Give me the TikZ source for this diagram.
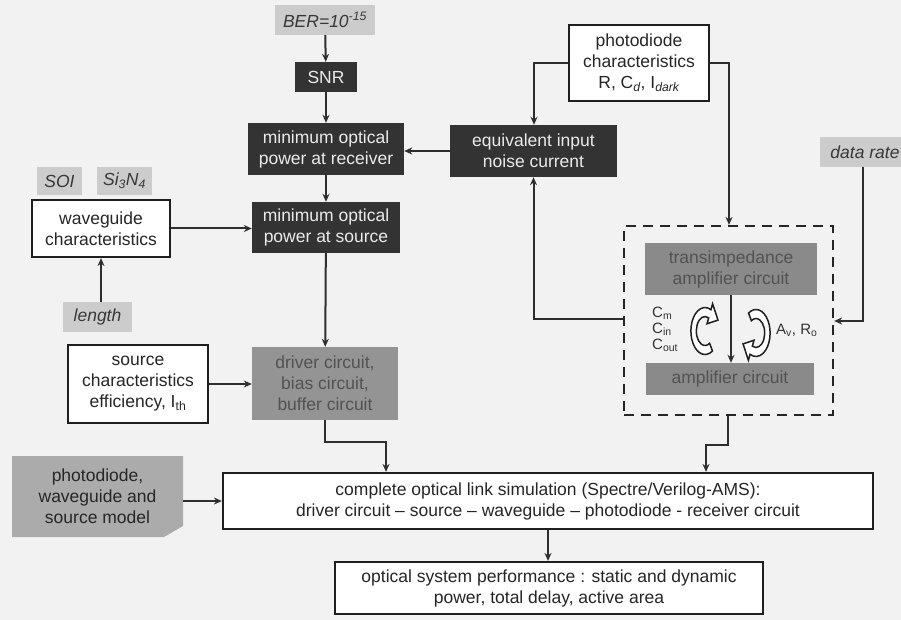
\documentclass[tikz,border=0pt]{standalone}
\usepackage{fontspec}
\setmainfont{Liberation Sans}
\usetikzlibrary{arrows.meta,calc}
\begin{document}
\begin{tikzpicture}[x=1pt,y=-1pt,
  every node/.style={font=\fontsize{17.5}{21}\selectfont, inner sep=0pt, align=center},
  sz/.style 2 args={minimum width=#1pt, minimum height=#2pt},
  darkbox/.style={fill=black!80, text=white!92!black},
  lightlab/.style={fill=black!20, text=black!78, font=\fontsize{17.5}{21}\selectfont\itshape},
  plainbox/.style={draw=black!88, line width=2.2pt, fill=white, text=black!85},
  midbox/.style={fill=black!46, text=black!68},
  conn/.style={draw=black!82, line width=2pt, -{Stealth[length=8pt,width=7pt]}},
  curv/.style={draw=black!88, line width=1.5pt, fill=white},
  small/.style={font=\fontsize{15}{18}\selectfont, text=black!80}
]
\useasboundingbox[fill=black!5] (0,0) rectangle (901,620);

% top chain
\node[lightlab, sz={100}{30}] (ber) at (325,20) {BER=10\textsuperscript{-15}};
\node[darkbox, sz={62}{30}] (snr) at (326,77) {SNR};
\node[darkbox, sz={156}{52}] (recv) at (326,149) {minimum optical\\power at receiver};
\node[darkbox, sz={148}{51}] (src) at (326,227.5) {minimum optical\\power at source};

% waveguide
\node[lightlab, sz={45}{28}] (soi) at (59.5,181) {SOI};
\node[lightlab, sz={55}{28}] (sin) at (124.5,181) {Si\textsubscript{3}N\textsubscript{4}};
\node[plainbox, sz={138}{57}] (wg) at (101,228.5) {waveguide\\characteristics};
\node[lightlab, sz={69}{30}] (len) at (97.5,317) {length};

% source / driver
\node[plainbox, sz={140}{78}] (schar) at (138,384) {source\\characteristics\\efficiency, I\textsubscript{th}};
\node[midbox, fill=black!42, sz={146}{73}] (drv) at (325,383.5) {driver circuit,\\bias circuit,\\buffer circuit};

% photodiode side
\node[plainbox, sz={140}{76}] (pchar) at (639,63) {photodiode\\characteristics\\R, C\textsubscript{\itshape d}, I\textsubscript{\itshape dark}};
\node[darkbox, sz={167}{52}] (eq) at (533.5,151) {equivalent input\\noise current};
\node[lightlab, sz={90}{30}] (rate) at (865,152) {data rate};

% receiver dashed block
\node[draw=black!85, line width=2.2pt, dash pattern=on 10pt off 7pt, sz={209}{189}] (dash) at (728.5,320.5) {};
\node[midbox, sz={172}{52}] (tia) at (731,269) {transimpedance\\amplifier circuit};
\node[midbox, sz={168}{32}] (amp) at (730,379) {amplifier circuit};
\node[small, anchor=west, align=left] (caps) at (652,329) {C\textsubscript{m}\\[-2pt]C\textsubscript{in}\\[-2pt]C\textsubscript{out}};
\node[small, anchor=west] (avro) at (776,330) {A\textsubscript{v}, R\textsubscript{o}};

% curved arrows
\begin{scope}[shift={(705,331)}, xscale=0.6]
  \path[curv] (58:23.5) arc[start angle=58, end angle=295, radius=23.5]
    -- (295:30) -- ($(295:19)+(25:15)$) -- (295:8) -- (295:14.5)
    arc[start angle=295, end angle=58, radius=14.5] -- cycle;
\end{scope}
\begin{scope}[shift={(756,333)}, xscale=0.6]
  \path[curv] (238:23.5) arc[start angle=238, end angle=475, radius=23.5]
    -- (475:30) -- ($(475:19)+(565:15)$) -- (475:8) -- (475:14.5)
    arc[start angle=475, end angle=238, radius=14.5] -- cycle;
\end{scope}

% model (chamfered box)
\fill[black!33] (12,456) -- (183,456) -- (183,526) -- (164,537) -- (12,537) -- cycle;
\node[sz={171}{81}, text=black!85] (model) at (97.5,496.5) {photodiode,\\waveguide and\\source model};

% bottom
\node[plainbox, sz={650}{56}] (comp) at (548,501) {complete optical link simulation (Spectre/Verilog-AMS):\\driver circuit -- source -- waveguide -- photodiode - receiver circuit};
\node[plainbox, sz={428}{52}] (perf) at (549,588) {optical system performance : static and dynamic\\power, total delay, active area};

% connectors
\draw[conn] (ber) -- (snr);
\draw[conn] (snr) -- (recv);
\draw[conn] (recv) -- (src);
\draw[conn] (wg.east) -- (wg.east -| src.west);
\draw[conn] (len.north -| wg) -- (wg.south);
\draw[conn] (schar.east) -- (schar.east -| drv.west);
\draw[conn] (src) -- (drv);
\coordinate (dk) at (386,442);
\draw[conn] (drv.south) |- (dk) -- (dk |- comp.north);
\coordinate (pk1) at (534,63);
\draw[conn] (pchar.west) -| (pk1 |- eq.north);
\coordinate (pk2) at (729,63);
\draw[conn] (pchar.east) -| (pk2 |- dash.north);
\draw[conn] (eq.west) -- (eq.west -| recv.east);
\coordinate (fb) at (533,319);
\draw[conn] (fb -| dash.west) -| (eq.south);
\coordinate (dr) at (863,321);
\draw[conn] (rate.south -| dr) |- (dr -| dash.east);
\draw[conn] (tia.south) -- (tia.south |- amp.north);
\coordinate (ak1) at (728,445);
\coordinate (ak2) at (706,445);
\draw[conn] (ak1 |- dash.south) -- (ak1) -- (ak2) -- (ak2 |- comp.north);
\draw[conn] (comp.west -| model.east) -- (comp.west);
\draw[conn] (comp.south) -- (comp.south |- perf.north);
\end{tikzpicture}
\end{document}
